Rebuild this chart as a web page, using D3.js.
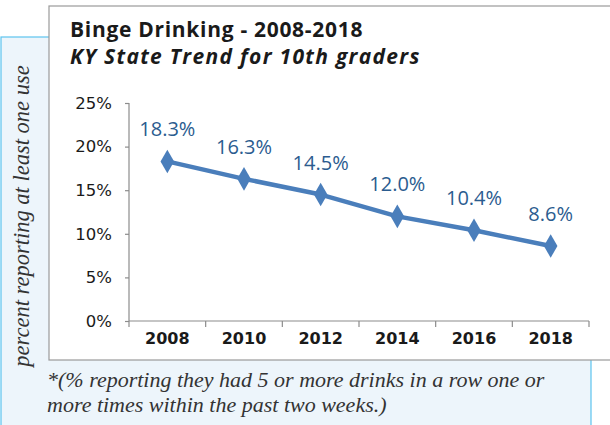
<!DOCTYPE html>
<html>
<head>
<meta charset="utf-8">
<script src="https://cdn.jsdelivr.net/npm/d3@7.9.0/dist/d3.min.js"></script>
<style>
  body { margin: 0; background: #fff; }
  svg { display: block; }
</style>
</head>
<body>
<svg id="chart" width="610" height="425"></svg>
<script>
// chart data
const years   = ['2008', '2010', '2012', '2014', '2016', '2018'];
const values  = [18.3, 16.3, 14.5, 12.0, 10.4, 8.6];
const yTicks  = [0, 5, 10, 15, 20, 25];
const title    = 'Binge Drinking - 2008-2018';
const subtitle = 'KY State Trend for 10th graders';
const yLabel   = 'percent reporting at least one use';
const notes    = ['*(% reporting they had 5 or more drinks in a row one or',
                  'more times within the past two weeks.)'];

const svg = d3.select('#chart');

// light blue panel behind everything
svg.append('rect')
  .attr('x', 1).attr('y', 37).attr('width', 590).attr('height', 400)
  .attr('fill', '#edf5fb').attr('stroke', '#5cc3ee').attr('stroke-width', 1.2);

// white chart box
svg.append('rect')
  .attr('x', 49).attr('y', 6).attr('width', 600).attr('height', 354)
  .attr('fill', '#fff').attr('stroke', '#9a9a9a').attr('stroke-width', 1.2);

svg.append('text')
  .attr('x', 70).attr('y', 37)
  .style('font', 'bold 21px "Open Sans"').style('letter-spacing', '0.7px')
  .attr('fill', '#1a1a1a')
  .text(title);
svg.append('text')
  .attr('x', 70).attr('y', 64)
  .style('font', 'italic bold 21px "Open Sans"').style('letter-spacing', '1.3px')
  .attr('fill', '#1a1a1a')
  .text(subtitle);

// scales
const x = d3.scaleBand().domain(years).range([129, 589]);
const y = d3.scaleLinear().domain([0, 25]).range([321, 103]);

// y axis
const yAxis = svg.append('g')
  .attr('transform', 'translate(129,0)')
  .call(d3.axisLeft(y).tickValues(yTicks).tickSize(4).tickPadding(13)
    .tickFormat(d => d + '%'));
yAxis.selectAll('line, path').attr('stroke', '#8c8c8c').attr('stroke-width', 1.2);
yAxis.select('.domain').attr('d', 'M0,' + y(25) + 'V' + y(0));
yAxis.selectAll('text')
  .style('font', '16.5px "DejaVu Sans"').attr('fill', '#1a1a1a');

// x axis with ticks between categories
const xAxis = svg.append('g')
  .attr('transform', 'translate(0,' + y(0) + ')')
  .call(d3.axisBottom(x).tickSize(0).tickPadding(12));
xAxis.select('.domain').attr('stroke', '#8c8c8c').attr('stroke-width', 1.2)
  .attr('d', 'M129,0H589');
xAxis.selectAll('text')
  .style('font', 'bold 16px "DejaVu Sans"').attr('fill', '#1a1a1a');
xAxis.selectAll('.sep')
  .data(years.concat(['end']))
  .join('line')
  .attr('class', 'sep')
  .attr('x1', (d, i) => i < years.length ? x(d) : x.range()[1])
  .attr('x2', (d, i) => i < years.length ? x(d) : x.range()[1])
  .attr('y1', 0).attr('y2', 6)
  .attr('stroke', '#8c8c8c').attr('stroke-width', 1.2);

// series
const pts = years.map((yr, i) => ({ yr, v: values[i] }));
const cx = d => x(d.yr) + x.bandwidth() / 2;

svg.append('path')
  .datum(pts)
  .attr('fill', 'none').attr('stroke', '#4a7ebb').attr('stroke-width', 4.5)
  .attr('stroke-linejoin', 'round')
  .attr('d', d3.line().x(cx).y(d => y(d.v)));

svg.selectAll('.mark')
  .data(pts)
  .join('path')
  .attr('class', 'mark')
  .attr('transform', d => `translate(${cx(d)},${y(d.v)})`)
  .attr('d', d3.symbol().type(d3.symbolDiamond).size(160))
  .attr('fill', '#4a7ebb');

svg.selectAll('.lbl')
  .data(pts)
  .join('text')
  .attr('class', 'lbl')
  .attr('x', cx).attr('y', d => y(d.v) - 25)
  .attr('text-anchor', 'middle')
  .style('font', '20px "Open Sans"').attr('fill', '#2b5c8f')
  .text(d => d.v.toFixed(1) + '%');

// y title
svg.append('text')
  .attr('transform', 'translate(29,216) rotate(-90)')
  .attr('text-anchor', 'middle')
  .style('font', 'italic 22.5px "Liberation Serif"')
  .attr('fill', '#333')
  .text(yLabel);

// footnote
svg.selectAll('.note')
  .data(notes)
  .join('text')
  .attr('class', 'note')
  .attr('x', 47).attr('y', (d, i) => 387 + i * 25)
  .style('font', 'italic 22px "Liberation Serif"').attr('fill', '#333')
  .text(d => d);
</script>
</body>
</html>
